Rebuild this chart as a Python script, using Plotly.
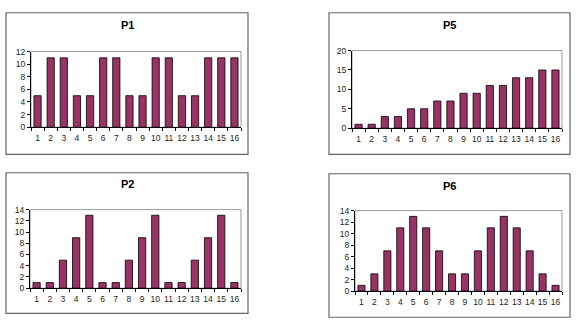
import plotly.graph_objects as go

categories = [str(i) for i in range(1, 17)]
p1 = [5, 11, 11, 5, 5, 11, 11, 5, 5, 11, 11, 5, 5, 11, 11, 11]
p5 = [1, 1, 3, 3, 5, 5, 7, 7, 9, 9, 11, 11, 13, 13, 15, 15]
p2 = [1, 1, 5, 9, 13, 1, 1, 5, 9, 13, 1, 1, 5, 9, 13, 1]
p6 = [1, 3, 7, 11, 13, 11, 7, 3, 3, 7, 11, 13, 11, 7, 3, 1]
titles = ["P1", "P5", "P2", "P6"]
series = [p1, p5, p2, p6]
yranges = [(0, 12, 2), (0, 20, 5), (0, 14, 2), (0, 14, 2)]

W, H = 581, 331
# plot areas in pixels: (x0, x1, ytop, ybottom)
plot_px = [(31, 241, 48, 126), (352, 562, 47, 127), (30, 241, 211, 292), (355, 562, 212, 295)]
box_px = [(6, 248, 8, 154), (329, 570, 8, 154), (6, 248, 173, 318), (329, 570, 174, 322)]
title_px = [(127, 21), (449, 21), (127, 185), (449, 187)]

fig = go.Figure()
shapes = []
annotations = []
for i in range(4):
    n = "" if i == 0 else str(i + 1)
    xa, ya = "x" + n, "y" + n
    fig.add_trace(go.Bar(
        x=categories, y=series[i], xaxis=xa, yaxis=ya,
        marker=dict(color="#993366", line=dict(color="#000000", width=0.8)),
        showlegend=False, hoverinfo="x+y"))
    x0, x1, yt, yb = plot_px[i]
    lo, hi, dt = yranges[i]
    fig.layout["xaxis" + n] = dict(
        domain=[x0 / W, x1 / W], anchor=ya, type="category",
        showline=True, linecolor="#000000", linewidth=1,
        ticks="outside", ticklen=3, tickcolor="#000000", tickson="boundaries",
        tickangle=0, ticklabelstandoff=3,
        showgrid=False, zeroline=False,
        tickfont=dict(family="Arial, Liberation Sans", size=8.5, color="#222222"),
        fixedrange=True)
    fig.layout["yaxis" + n] = dict(
        domain=[1 - yb / H, 1 - yt / H], anchor=xa, range=[lo, hi], dtick=dt, tick0=0,
        showline=True, linecolor="#000000", linewidth=1,
        ticks="outside", ticklen=3, tickcolor="#000000",
        showgrid=False, zeroline=False,
        tickfont=dict(family="Arial, Liberation Sans", size=8.5, color="#222222"),
        fixedrange=True)
    # plot area frame (gray)
    shapes.append(dict(type="rect", xref=xa + " domain", yref=ya + " domain",
                       x0=0, x1=1, y0=0, y1=1, line=dict(color="#9a9a9a", width=1),
                       layer="below"))
    bx0, bx1, byt, byb = box_px[i]
    shapes.append(dict(type="rect", xref="paper", yref="paper",
                       x0=bx0 / W, x1=bx1 / W, y0=1 - byb / H, y1=1 - byt / H,
                       line=dict(color="#666666", width=1.2), layer="below"))
    tx, ty = title_px[i]
    annotations.append(dict(text="<b>" + titles[i] + "</b>", xref="paper", yref="paper",
                            x=tx / W, y=1 - ty / H, xanchor="center", yanchor="middle",
                            showarrow=False,
                            font=dict(family="Arial, Liberation Sans", size=11, color="#000000")))

fig.update_layout(
    width=W, height=H, margin=dict(l=0, r=0, t=0, b=0),
    paper_bgcolor="white", plot_bgcolor="white",
    bargap=0.45, shapes=shapes, annotations=annotations)

fig.write_html("out.html")
